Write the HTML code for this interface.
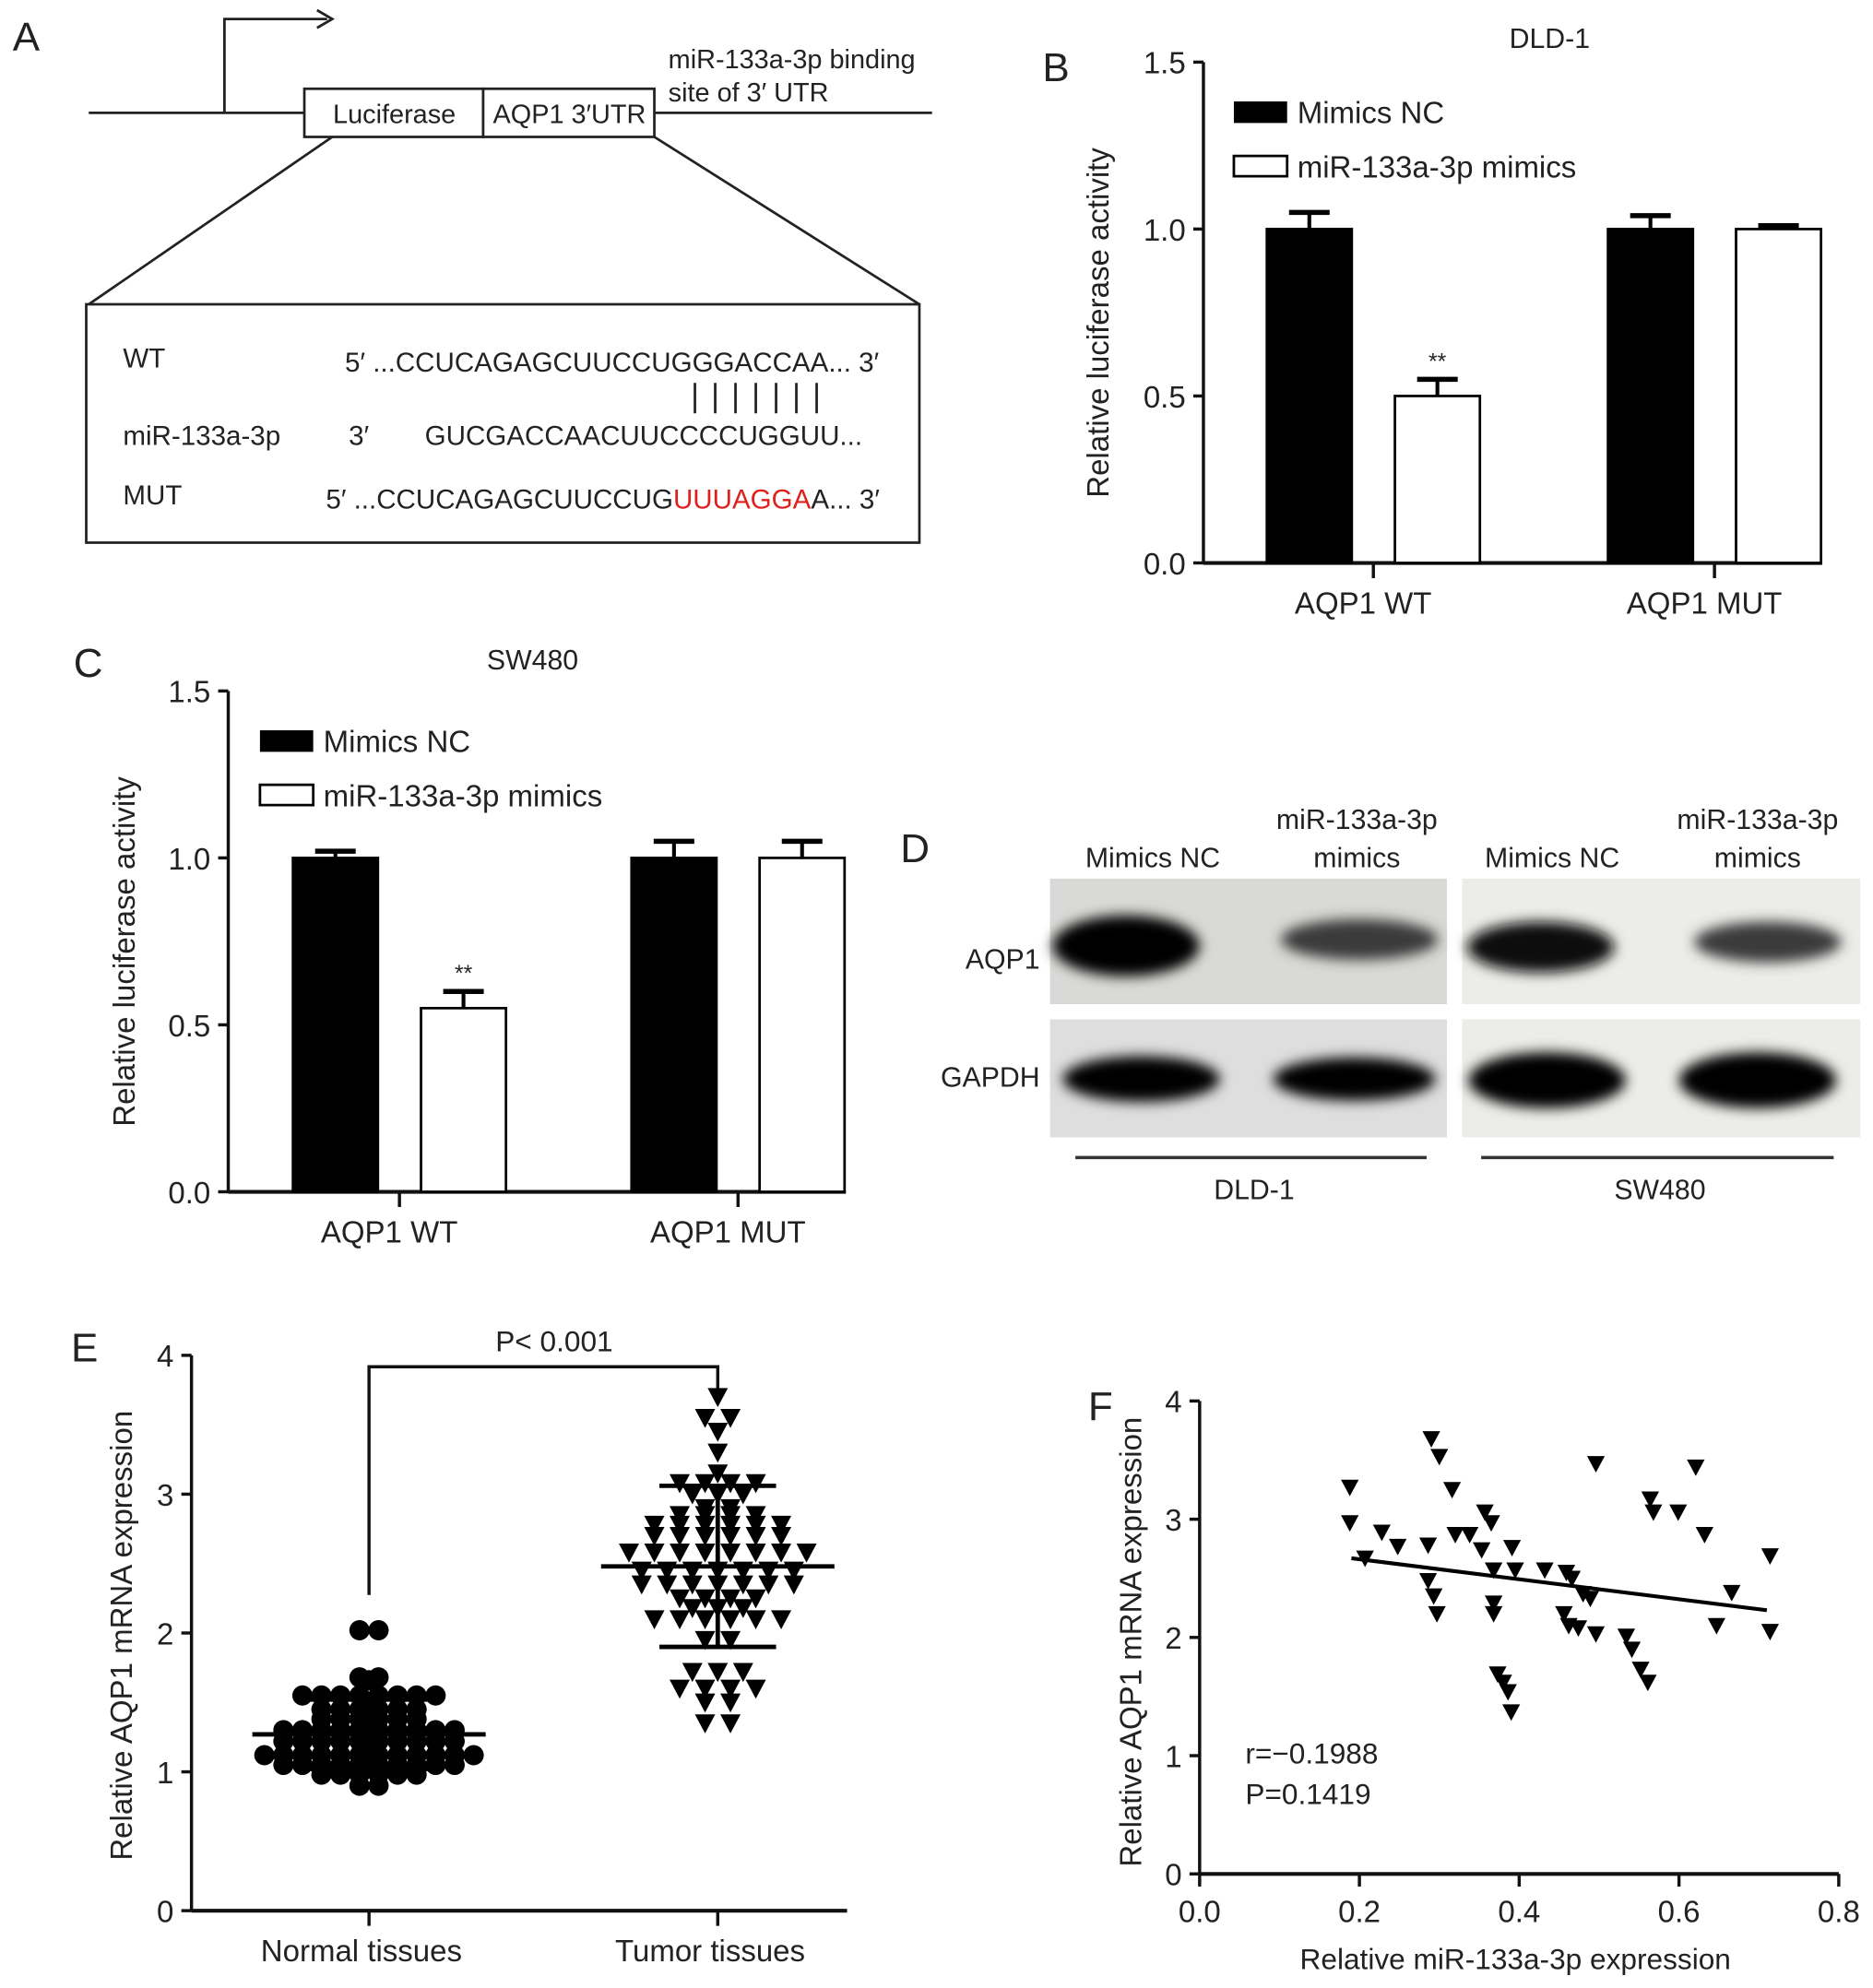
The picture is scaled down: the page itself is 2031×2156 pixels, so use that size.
<!DOCTYPE html>
<html><head><meta charset="utf-8">
<style>
html,body{margin:0;padding:0;background:#fff;}
svg{display:block;font-family:"Liberation Sans",Arial,sans-serif;}
</style></head>
<body>
<svg id="fig" width="2031" height="2156" viewBox="0 0 1477 1568" preserveAspectRatio="none" xmlns="http://www.w3.org/2000/svg">
<defs>
<filter id="blur" x="-30%" y="-60%" width="160%" height="220%"><feGaussianBlur stdDeviation="5"/></filter>
</defs>
<!-- Panel A -->
<g fill="#222" stroke="#222">
<text x="10" y="40" font-size="32" stroke="none">A</text>
<line x1="70" y1="89" x2="240" y2="89" stroke-width="2"/>
<line x1="516" y1="89" x2="735" y2="89" stroke-width="2"/>
<polyline points="177,89 177,15 258,15" fill="none" stroke-width="2"/>
<polyline points="250,8 262,15 250,22" fill="none" stroke-width="2"/>
<rect x="240" y="70" width="141" height="38" fill="#fff" stroke-width="2"/>
<rect x="381" y="70" width="135" height="38" fill="#fff" stroke-width="2"/>
<text x="311" y="97" font-size="21" text-anchor="middle" stroke="none">Luciferase</text>
<text x="449" y="97" font-size="21" text-anchor="middle" stroke="none">AQP1 3′UTR</text>
<text x="527" y="54" font-size="21" stroke="none">miR-133a-3p binding</text>
<text x="527" y="80" font-size="21" stroke="none">site of 3′ UTR</text>
<line x1="262" y1="108" x2="70" y2="240" stroke-width="2"/>
<line x1="516" y1="108" x2="725" y2="240" stroke-width="2"/>
<rect x="68" y="240" width="657" height="188" fill="#fff" stroke-width="2"/>
<g stroke="none" font-size="21.5">
<text x="97" y="290">WT</text>
<text x="272" y="293">5′ ...CCUCAGAGCUUCCUGGGACCAA... 3′</text>
<text x="97" y="351">miR-133a-3p</text>
<text x="275" y="351">3′</text>
<text x="335" y="351">GUCGACCAACUUCCCCUGGUU...</text>
<text x="97" y="398">MUT</text>
<text x="257" y="401">5′ ...CCUCAGAGCUUCCUG<tspan fill="#e0201c">UUUAGGA</tspan>A... 3′</text>
</g>
<g stroke-width="2">
<line x1="548" y1="302" x2="548" y2="326"/><line x1="564" y1="302" x2="564" y2="326"/><line x1="580" y1="302" x2="580" y2="326"/><line x1="596" y1="302" x2="596" y2="326"/><line x1="612" y1="302" x2="612" y2="326"/><line x1="628" y1="302" x2="628" y2="326"/><line x1="644" y1="302" x2="644" y2="326"/>
</g>
</g>
<!-- Panel D -->
<g fill="#222">
<text x="710" y="680" font-size="32">D</text>
<g font-size="22" text-anchor="middle">
<text x="909" y="684">Mimics NC</text>
<text x="1070" y="654">miR-133a-3p</text><text x="1070" y="684">mimics</text>
<text x="1224" y="684">Mimics NC</text>
<text x="1386" y="654">miR-133a-3p</text><text x="1386" y="684">mimics</text>
</g>
<text x="820" y="764" font-size="22" text-anchor="end">AQP1</text>
<text x="820" y="857" font-size="22" text-anchor="end">GAPDH</text>
<rect x="828" y="693" width="313" height="99" fill="#d9d9d7"/>
<rect x="1153" y="693" width="314" height="99" fill="#ececea"/>
<rect x="828" y="804" width="313" height="93" fill="#dddedd"/>
<rect x="1153" y="804" width="314" height="93" fill="#ececea"/>
<g filter="url(#blur)">
<ellipse cx="888" cy="746" rx="58" ry="24" fill="#050505"/>
<ellipse cx="1072" cy="741" rx="62" ry="16" fill="#3a3a3a"/>
<ellipse cx="1215" cy="747" rx="58" ry="20" fill="#0a0a0a"/>
<ellipse cx="1394" cy="743" rx="58" ry="16" fill="#3a3a3a"/>
<ellipse cx="900" cy="851" rx="62" ry="18" fill="#000"/>
<ellipse cx="1068" cy="851" rx="64" ry="17" fill="#000"/>
<ellipse cx="1220" cy="852" rx="62" ry="22" fill="#050505"/>
<ellipse cx="1386" cy="852" rx="62" ry="22" fill="#050505"/>
</g>
<line x1="848" y1="913" x2="1125" y2="913" stroke="#333" stroke-width="2.5"/>
<line x1="1168" y1="913" x2="1446" y2="913" stroke="#333" stroke-width="2.5"/>
<text x="989" y="946" font-size="22" text-anchor="middle">DLD-1</text>
<text x="1309" y="946" font-size="22" text-anchor="middle">SW480</text>
</g>
<g id="charts"></g>
</svg>
<script>
// ---- Panel B data ----
const bGroups = ["AQP1 WT", "AQP1 MUT"];
const bNC = [1.0, 1.0];
const bNCerr = [0.05, 0.04];
const bMim = [0.5, 1.0];
const bMimErr = [0.05, 0.01];
const bTicks = ["0.0", "0.5", "1.0", "1.5"];
// ---- Panel C data ----
const cGroups = ["AQP1 WT", "AQP1 MUT"];
const cNC = [1.0, 1.0];
const cNCerr = [0.02, 0.05];
const cMim = [0.55, 1.0];
const cMimErr = [0.05, 0.05];
const cTicks = ["0.0", "0.5", "1.0", "1.5"];
// ---- Panel E data ----
const eCategories = ["Normal tissues", "Tumor tissues"];
const eTicks = ["0", "1", "2", "3", "4"];
const eNormal = [2.02,2.02,1.68,1.68,1.66,1.55,1.55,1.55,1.55,1.55,1.55,1.55,1.55,1.45,1.45,1.45,1.45,1.45,1.45,1.38,1.38,1.38,1.38,1.38,1.38,1.30,1.30,1.30,1.30,1.30,1.30,1.30,1.30,1.30,1.30,1.22,1.22,1.22,1.22,1.22,1.22,1.22,1.22,1.22,1.22,1.12,1.12,1.12,1.12,1.12,1.12,1.12,1.12,1.12,1.12,1.12,1.12,1.05,1.05,1.05,1.05,1.05,1.05,1.05,1.05,1.05,1.05,0.98,0.98,0.98,0.98,0.98,0.98,0.90,0.90];
const eTumor = [3.70,3.55,3.55,3.45,3.30,3.15,3.08,3.08,3.08,3.08,3.00,3.00,3.00,2.90,2.90,2.85,2.85,2.85,2.85,2.78,2.78,2.78,2.78,2.78,2.78,2.70,2.70,2.70,2.70,2.70,2.70,2.58,2.58,2.58,2.58,2.58,2.58,2.58,2.58,2.45,2.45,2.45,2.45,2.45,2.45,2.45,2.35,2.35,2.35,2.35,2.35,2.35,2.35,2.25,2.25,2.25,2.25,2.18,2.18,2.18,2.10,2.10,2.10,2.10,2.10,2.10,1.95,1.95,1.72,1.72,1.72,1.60,1.60,1.60,1.60,1.50,1.50,1.35,1.35];
const eNormalMean = 1.27, eNormalSD = 0.25;
const eTumorMean = 2.48, eTumorSD = 0.58;
// ---- Panel F data ----
const fX = [0.188,0.188,0.207,0.228,0.248,0.286,0.29,0.30,0.316,0.286,0.293,0.297,0.32,0.338,0.353,0.357,0.365,0.368,0.368,0.368,0.391,0.373,0.38,0.386,0.39,0.395,0.432,0.459,0.466,0.456,0.462,0.474,0.48,0.489,0.496,0.496,0.534,0.541,0.552,0.561,0.564,0.568,0.599,0.621,0.632,0.647,0.666,0.714,0.714];
const fY = [3.27,2.97,2.67,2.89,2.77,2.78,3.68,3.53,3.25,2.48,2.35,2.2,2.87,2.87,2.74,3.06,2.97,2.57,2.29,2.2,2.76,1.69,1.62,1.54,1.37,2.57,2.57,2.55,2.5,2.2,2.1,2.08,2.37,2.33,3.47,2.03,2.01,1.9,1.73,1.62,3.17,3.06,3.06,3.44,2.87,2.1,2.38,2.69,2.05];
const fXTicks = ["0.0","0.2","0.4","0.6","0.8"];
const fYTicks = ["0","1","2","3","4"];
const fFitX = [0.19, 0.71];
const fFitY = [2.67, 2.23];

const NS = "http://www.w3.org/2000/svg";
const root = document.getElementById("charts");
function mk(tag, attrs, parent) {
  const el = document.createElementNS(NS, tag);
  for (const k in attrs) el.setAttribute(k, attrs[k]);
  (parent || root).appendChild(el);
  return el;
}
function txt(x, y, s, size, anchor, parent, rot) {
  const t = mk("text", {x: x, y: y, "font-size": size, "text-anchor": anchor || "start", fill: "#222"}, parent);
  if (rot) t.setAttribute("transform", "rotate(-90 " + x + " " + y + ")");
  t.textContent = s;
  return t;
}

function barChart(cfg) {
  const g = mk("g", {});
  
  
  const y = v => cfg.y0 - (cfg.y0 - cfg.yTop) * v / 1.5;
  txt(cfg.letterX, cfg.letterY, cfg.letter, 32, "start", g);
  txt(cfg.titleX, cfg.titleY, cfg.title, 22, "middle", g);
  const ya = mk("line", {x1: cfg.ax, y1: cfg.yTop, x2: cfg.ax, y2: cfg.y0 + 1, stroke: "#111", "stroke-width": 2.5}, g);
  
  
  const xa = mk("line", {x1: cfg.ax, y1: cfg.y0, x2: cfg.axEnd, y2: cfg.y0, stroke: "#111", "stroke-width": 3}, g);
  
  
  cfg.ticks.forEach((t, i) => {
    const v = parseFloat(t);
    mk("line", {x1: cfg.ax - 8, y1: y(v), x2: cfg.ax, y2: y(v), stroke: "#111", "stroke-width": 2.5}, g);
    const tl = txt(cfg.ax - 14, y(v) + 9, t, 24, "end", g);
    
    
  });
  const yt = txt(cfg.yTitleX, (cfg.y0 + cfg.yTop) / 2 + 8, "Relative luciferase activity", 24, "middle", g, true);
  
  
  const bw = cfg.bw;
  cfg.groups.forEach((name, i) => {
    const gx = cfg.gx[i];
    const series = [[cfg.nc[i], cfg.ncErr[i], "#000", gx - cfg.gap / 2 - bw], [cfg.mim[i], cfg.mimErr[i], "#fff", gx + cfg.gap / 2]];
    series.forEach((s, j) => {
      const cx = s[3] + bw / 2;
      mk("line", {x1: cx, y1: y(s[0]), x2: cx, y2: y(s[0] + s[1]), stroke: "#000", "stroke-width": 3}, g);
      mk("line", {x1: cx - 16, y1: y(s[0] + s[1]), x2: cx + 16, y2: y(s[0] + s[1]), stroke: "#000", "stroke-width": 4}, g);
      const r = mk("rect", {x: s[3], y: y(s[0]), width: bw, height: cfg.y0 - y(s[0]), fill: s[2], stroke: "#000", "stroke-width": 2}, g);
      
      
      if (j === 1 && s[0] < 0.8) txt(cx, y(s[0] + s[1]) - 8, "**", 18, "middle", g);
    });
    mk("line", {x1: gx, y1: cfg.y0, x2: gx, y2: cfg.y0 + 12, stroke: "#111", "stroke-width": 2.5}, g);
    const xl = txt(gx - 8, cfg.y0 + 40, name, 24, "middle", g);
    
    
  });
  const l1 = mk("rect", {x: cfg.legX, y: cfg.legY, width: 42, height: 17, fill: "#000"}, g);
  
  
  txt(cfg.legX + 50, cfg.legY + 17, "Mimics NC", 24, "start", g);
  const l2 = mk("rect", {x: cfg.legX, y: cfg.legY + 43, width: 42, height: 16, fill: "#fff", stroke: "#000", "stroke-width": 2}, g);
  
  
  txt(cfg.legX + 50, cfg.legY + 60, "miR-133a-3p mimics", 24, "start", g);
}

barChart({name: "panel-b-chart", letter: "B", letterX: 822, letterY: 64, title: "DLD-1", titleX: 1222, titleY: 38,
  ax: 949, axEnd: 1437, y0: 444, yTop: 49, yTitleX: 874, gx: [1083, 1352], bw: 67, gap: 34,
  groups: bGroups, nc: bNC, ncErr: bNCerr, mim: bMim, mimErr: bMimErr, ticks: bTicks, legX: 973, legY: 80});
barChart({name: "panel-c-chart", letter: "C", letterX: 58, letterY: 534, title: "SW480", titleX: 420, titleY: 528,
  ax: 180, axEnd: 667, y0: 940, yTop: 545, yTitleX: 106, gx: [315, 582], bw: 67, gap: 34,
  groups: cGroups, nc: cNC, ncErr: cNCerr, mim: cMim, mimErr: cMimErr, ticks: cTicks, legX: 205, legY: 576});

// ---- Panel E ----
(function () {
  const g = mk("g", {});
  
  
  const ax = 151, y0 = 1507, yTop = 1069;
  const y = v => y0 - (y0 - yTop) * v / 4;
  const cx = [291, 566];
  txt(56, 1074, "E", 32, "start", g);
  mk("line", {x1: ax, y1: yTop, x2: ax, y2: y0, stroke: "#111", "stroke-width": 2.5}, g);
  mk("line", {x1: ax, y1: y0, x2: 668, y2: y0, stroke: "#111", "stroke-width": 3}, g);
  eTicks.forEach(t => {
    const v = parseFloat(t);
    mk("line", {x1: ax - 8, y1: y(v), x2: ax, y2: y(v), stroke: "#111", "stroke-width": 2.5}, g);
    txt(ax - 14, y(v) + 9, t, 24, "end", g);
  });
  eCategories.forEach((c, i) => {
    mk("line", {x1: cx[i], y1: y0, x2: cx[i], y2: y0 + 12, stroke: "#111", "stroke-width": 2.5}, g);
    const l = txt(cx[i] - 6, y0 + 40, c, 24, "middle", g);
    
    
  });
  txt(104, 1290, "Relative AQP1 mRNA expression", 24, "middle", g, true);
  mk("polyline", {points: "291,1258 291,1078 566,1078 566,1095", fill: "none", stroke: "#111", "stroke-width": 2.5}, g);
  txt(437, 1066, "P< 0.001", 23, "middle", g);
  function place(vals, center, step) {
    const counts = {}, idx = {};
    vals.forEach(v => counts[v] = (counts[v] || 0) + 1);
    return vals.map(v => {
      idx[v] = (idx[v] || 0);
      const k = idx[v]++;
      const n = counts[v];
      return center + (k - (n - 1) / 2) * step;
    });
  }
  const nx = place(eNormal, cx[0], 15);
  eNormal.forEach((v, i) => {
    const c = mk("circle", {cx: nx[i], cy: y(v), r: 8, fill: "#000"}, g);
    
    
  });
  const tx = place(eTumor, cx[1], 20);
  eTumor.forEach((v, i) => {
    const px = tx[i], py = y(v);
    const t = mk("polygon", {points: (px - 8) + "," + (py - 7) + " " + (px + 8) + "," + (py - 7) + " " + px + "," + (py + 8), fill: "#000"}, g);
    
    
  });
  function stats(c, m, sd, half) {
    mk("line", {x1: c, y1: y(m - sd), x2: c, y2: y(m + sd), stroke: "#000", "stroke-width": 3.5}, g);
    mk("line", {x1: c - half, y1: y(m), x2: c + half, y2: y(m), stroke: "#000", "stroke-width": 3.5}, g);
    mk("line", {x1: c - half / 2, y1: y(m + sd), x2: c + half / 2, y2: y(m + sd), stroke: "#000", "stroke-width": 3.5}, g);
    mk("line", {x1: c - half / 2, y1: y(m - sd), x2: c + half / 2, y2: y(m - sd), stroke: "#000", "stroke-width": 3.5}, g);
  }
  stats(cx[0], eNormalMean, eNormalSD, 92);
  stats(cx[1], eTumorMean, eTumorSD, 92);
})();

// ---- Panel F ----
(function () {
  const g = mk("g", {});
  
  
  const ax = 946, axEnd = 1450, y0 = 1478, yTop = 1105;
  const X = v => ax + (axEnd - ax) * v / 0.8;
  const Y = v => y0 - (y0 - yTop) * v / 4;
  txt(858, 1120, "F", 32, "start", g);
  mk("line", {x1: ax, y1: yTop, x2: ax, y2: y0, stroke: "#111", "stroke-width": 2.5}, g);
  mk("line", {x1: ax, y1: y0, x2: axEnd, y2: y0, stroke: "#111", "stroke-width": 3}, g);
  fYTicks.forEach(t => {
    const v = parseFloat(t);
    mk("line", {x1: ax - 8, y1: Y(v), x2: ax, y2: Y(v), stroke: "#111", "stroke-width": 2.5}, g);
    txt(ax - 14, Y(v) + 9, t, 24, "end", g);
  });
  fXTicks.forEach(t => {
    const v = parseFloat(t);
    mk("line", {x1: X(v), y1: y0, x2: X(v), y2: y0 + 10, stroke: "#111", "stroke-width": 2.5}, g);
    txt(X(v), y0 + 38, t, 24, "middle", g);
  });
  txt(1195, 1553, "Relative miR-133a-3p expression", 23, "middle", g);
  txt(900, 1295, "Relative AQP1 mRNA expression", 24, "middle", g, true);
  txt(982, 1391, "r=\u22120.1988", 23, "start", g);
  txt(982, 1423, "P=0.1419", 23, "start", g);
  fX.forEach((xv, i) => {
    const px = X(xv), py = Y(fY[i]);
    const t = mk("polygon", {points: (px - 7) + "," + (py - 6) + " " + (px + 7) + "," + (py - 6) + " " + px + "," + (py + 7), fill: "#000"}, g);
    
    
  });
  const fit = mk("line", {x1: X(fFitX[0]), y1: Y(fFitY[0]), x2: X(fFitX[1]), y2: Y(fFitY[1]), stroke: "#000", "stroke-width": 3}, g);
  
  
})();
</script>
</body></html>
